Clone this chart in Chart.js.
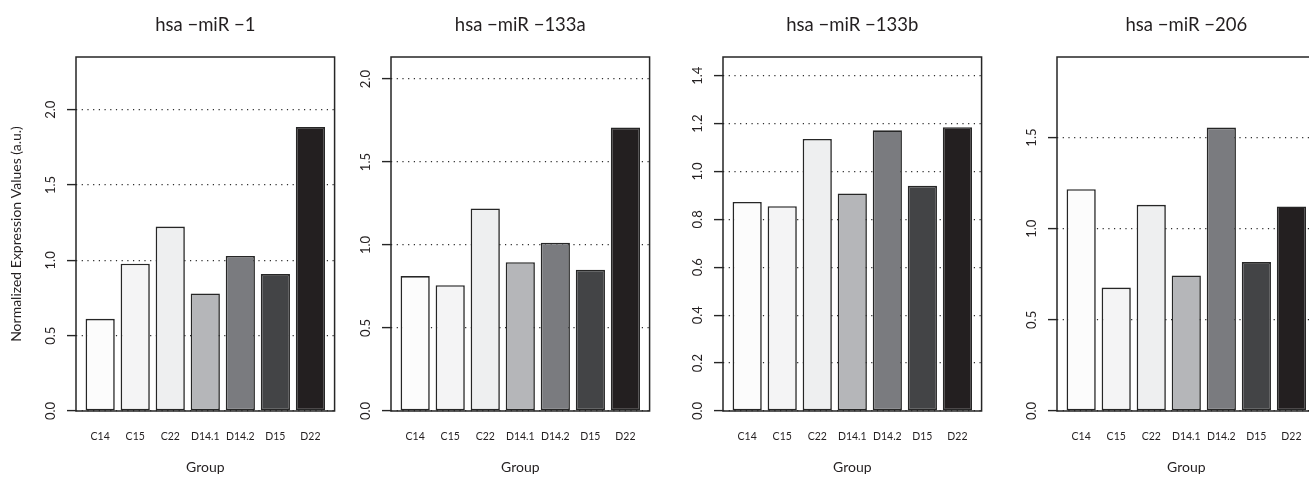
<!DOCTYPE html>
<html>
<head>
<meta charset="utf-8">
<script src="https://cdn.jsdelivr.net/npm/chart.js@4.4.1/dist/chart.umd.min.js"></script>
<style>
  html, body { margin: 0; padding: 0; background: #ffffff; }
  #wrap { position: relative; width: 1309px; height: 481px; overflow: hidden; background: #fff; }
  .panel { position: absolute; top: 0; height: 481px; }
</style>
</head>
<body>
<div id="wrap">
  <div class="panel" id="p0" style="left:0px;width:340px"><canvas id="c0"></canvas></div>
  <div class="panel" id="p1" style="left:315px;width:340px"><canvas id="c1"></canvas></div>
  <div class="panel" id="p2" style="left:647px;width:340px"><canvas id="c2"></canvas></div>
  <div class="panel" id="p3" style="left:981px;width:340px"><canvas id="c3"></canvas></div>
</div>
<script>
// ---- data ----
const categories = ['C14', 'C15', 'C22', 'D14.1', 'D14.2', 'D15', 'D22'];
const titles = ['hsa \u2212miR \u22121', 'hsa \u2212miR \u2212133a', 'hsa \u2212miR \u2212133b', 'hsa \u2212miR \u2212206'];
const mir1    = [0.612, 0.978, 1.224, 0.780, 1.029, 0.909, 1.885];
const mir133a = [0.813, 0.758, 1.220, 0.897, 1.014, 0.851, 1.708];
const mir133b = [0.873, 0.855, 1.136, 0.908, 1.172, 0.940, 1.185];
const mir206  = [1.217, 0.677, 1.131, 0.744, 1.555, 0.817, 1.122];
const yTicks1    = [0, 0.5, 1.0, 1.5, 2.0];
const yTicks133a = [0, 0.5, 1.0, 1.5, 2.0];
const yTicks133b = [0, 0.2, 0.4, 0.6, 0.8, 1.0, 1.2, 1.4];
const yTicks206  = [0, 0.5, 1.0, 1.5];
const yMax = [2.35, 2.133, 1.478, 1.942];
const barColors = ['#fcfcfc', '#f4f4f5', '#eeeff0', '#b5b6b9', '#7a7b7f', '#434446', '#231f20'];
const yTitle = 'Normalized Expression Values (a.u.)';
const xTitle = 'Group';

const series = [mir1, mir133a, mir133b, mir206];
const tickSets = [yTicks1, yTicks133a, yTicks133b, yTicks206];

// R barplot geometry (space = 0.2, width = 1), axis extended 4%
const SPACE = 0.2, BW = 1;
const center = i => SPACE + BW / 2 + i * (BW + SPACE);
const xLo = SPACE, xHi = categories.length * (BW + SPACE);
const ext = (xHi - xLo) * 0.04;

const FONT = "Lato, 'Open Sans', sans-serif";
const INK = '#231f20';

const boxPlugin = {
  id: 'rbox',
  afterDatasetsDraw(chart) {
    const a = chart.chartArea, ctx = chart.ctx;
    ctx.save();
    ctx.strokeStyle = '#262626';
    ctx.lineWidth = 1.5;
    ctx.strokeRect(a.left, a.top, a.right - a.left, a.bottom - a.top);
    ctx.restore();
  }
};

series.forEach((vals, p) => {
  const ticks = tickSets[p];
  new Chart(document.getElementById('c' + p), {
    type: 'bar',
    data: {
      datasets: [{
        data: vals.map((v, i) => ({ x: center(i), y: v })),
        backgroundColor: barColors,
        borderColor: '#262626',
        borderWidth: 1.6,
        borderSkipped: false,
        categoryPercentage: 1,
        barPercentage: BW / (BW + SPACE)
      }]
    },
    options: {
      responsive: true,
      maintainAspectRatio: false,
      animation: false,
      layout: { padding: { left: 0, right: 2.5, top: 0, bottom: 0 } },
      plugins: {
        legend: { display: false },
        tooltip: { enabled: false },
        title: {
          display: true,
          text: titles[p],
          fullSize: false,
          color: INK,
          font: { family: FONT, size: 18.5, weight: 'normal', lineHeight: 1.2 },
          padding: { top: 14, bottom: 20.8 }
        }
      },
      scales: {
        x: {
          type: 'linear',
          offset: false,
          min: xLo - ext,
          max: xHi + ext,
          afterBuildTicks: axis => { axis.ticks = categories.map((c, i) => ({ value: center(i) })); },
          afterFit: axis => { axis.height = 70; },
          grid: { display: false, drawTicks: false, offset: false },
          border: { display: false },
          ticks: {
            autoSkip: false,
            maxRotation: 0,
            padding: 19,
            color: INK,
            font: { family: FONT, size: 10.5 },
            callback: (v, i) => categories[i]
          },
          title: {
            display: true,
            text: xTitle,
            color: INK,
            font: { family: FONT, size: 14 },
            padding: { top: 0, bottom: 5 }
          }
        },
        y: {
          type: 'linear',
          min: 0,
          max: yMax[p],
          afterBuildTicks: axis => { axis.ticks = ticks.map(v => ({ value: v })); },
          afterFit: axis => { axis.width = 76; },
          border: { display: false, dash: [1.2, 4.5] },
          grid: {
            display: true,
            color: '#2e2e2e',
            lineWidth: 1.2,
            drawTicks: true,
            tickLength: 9,
            tickColor: '#262626',
            tickWidth: 1.4
          },
          ticks: {
            minRotation: 90,
            maxRotation: 90,
            crossAlign: 'center',
            padding: 7,
            color: INK,
            font: { family: FONT, size: 13 },
            callback: v => v.toFixed(1)
          },
          title: {
            display: p === 0,
            text: yTitle,
            color: INK,
            font: { family: FONT, size: 14 },
            padding: { top: 7.6, bottom: 0 }
          }
        }
      }
    },
    plugins: [boxPlugin]
  });
});
</script>
</body>
</html>
